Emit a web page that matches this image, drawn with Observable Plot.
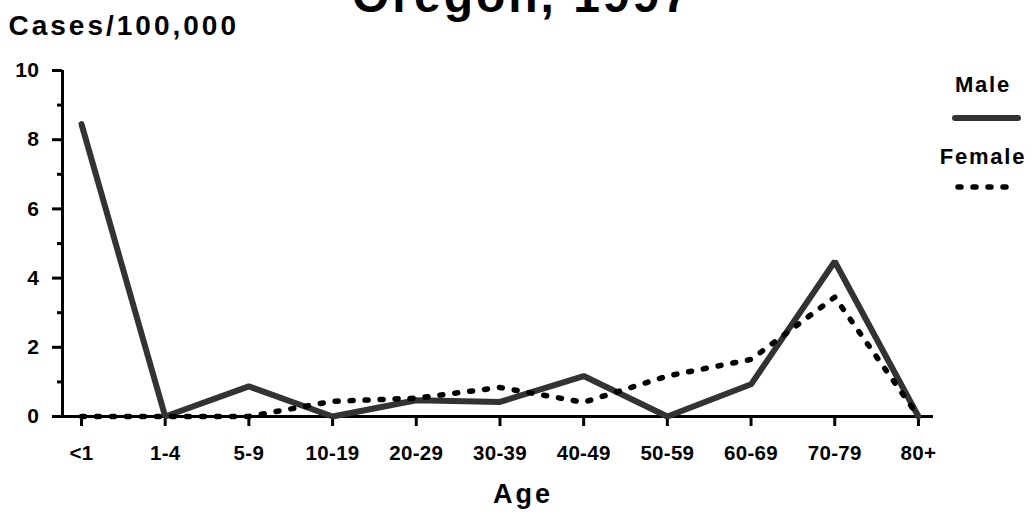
<!DOCTYPE html>
<html>
<head>
<meta charset="utf-8">
<script src="https://cdn.jsdelivr.net/npm/d3@7"></script>
<script src="https://cdn.jsdelivr.net/npm/@observablehq/plot@0.6"></script>
<style>
  html, body { margin: 0; padding: 0; background: #fff; }
  #wrap { position: relative; width: 1035px; height: 512px; overflow: hidden; }
  #legend { position: absolute; left: 930px; top: 70px; width: 110px;
    font-family: "Liberation Sans", Arial, sans-serif; font-weight: bold; font-size: 22px;
    letter-spacing: 1.8px; color: #000; }
  #legend .lab { position: absolute; width: 110px; text-align: center; }
  #legend svg { position: absolute; left: 0; }
</style>
</head>
<body>
<div id="wrap">
  <div id="chart"></div>
  <div id="legend"></div>
</div>
<script>
const ages = ["<1", "1-4", "5-9", "10-19", "20-29", "30-39", "40-49", "50-59", "60-69", "70-79", "80+"];
const male = [8.45, 0, 0.87, 0, 0.47, 0.42, 1.17, 0, 0.93, 4.48, 0];
const female = [0, 0, 0, 0.44, 0.53, 0.84, 0.41, 1.17, 1.65, 3.45, 0];
const yMajor = [0, 2, 4, 6, 8, 10];
const yMinor = [1, 3, 5, 7, 9];
const seriesNames = ["Male", "Female"];
const titleText = "Oregon, 1997";
const yTitle = "Cases/100,000";
const xTitle = "Age";

const data = ages.map((age, i) => ({i, age, male: male[i], female: female[i]}));

const xStart = -0.227;   // frame left edge (y axis position) in index units
const xAxisLeft = -0.335;
const xEnd = 10.18;

const font = "'Liberation Sans', Arial, Helvetica, sans-serif";

const chart = Plot.plot({
  width: 1035,
  height: 512,
  marginLeft: 62,
  marginRight: 102,
  marginTop: 70,
  marginBottom: 96,
  x: {type: "linear", domain: [xStart, xEnd]},
  y: {domain: [0, 10]},
  style: {fontFamily: font, fontWeight: "bold", color: "#000", background: "#fff", overflow: "visible"},
  marks: [
    Plot.axisY(yMajor, {anchor: "left", tickSize: 10, tickPadding: 13, strokeWidth: 3, fontSize: 21, fontWeight: "bold", label: null}),
    Plot.axisY(yMinor, {anchor: "left", tickSize: 5, strokeWidth: 3, tickFormat: () => "", label: null}),
    Plot.axisX(d3.range(ages.length), {anchor: "bottom", tickSize: 10, tickPadding: 19, strokeWidth: 3, fontSize: 20.5, fontWeight: "bold", tickFormat: i => ages[i], label: null}),
    Plot.ruleX([xStart], {y1: 0, y2: 10, stroke: "#000", strokeWidth: 3}),
    Plot.ruleY([0], {x1: xAxisLeft, x2: xEnd, stroke: "#000", strokeWidth: 3}),
    Plot.line(data, {x: "i", y: "male", stroke: "#333333", strokeWidth: 6, strokeLinejoin: "miter"}),
    Plot.line(data, {x: "i", y: "female", stroke: "#000", strokeWidth: 5.5, strokeDasharray: "3,12", strokeLinecap: "round", strokeLinejoin: "round"}),
    Plot.text([titleText], {frameAnchor: "top", dx: 24, dy: -93, fontSize: 48, fontWeight: "bold", fill: "#000"}),
    Plot.text([yTitle], {frameAnchor: "top-left", textAnchor: "start", dx: -54, dy: -55, fontSize: 28, fontWeight: "bold", fill: "#000"}),
    Plot.text([xTitle], {frameAnchor: "bottom", dx: 25, dy: 86, fontSize: 27, fontWeight: "bold", fill: "#000"})
  ]
});
document.getElementById("chart").appendChild(chart);

// text styling per group
d3.select(chart).selectAll("text").each(function() {
  const t = this.textContent;
  const s = d3.select(this);
  if (t === titleText || t === yTitle || t === xTitle) {
    s.style("letter-spacing", "3px");
  } else if (ages.includes(t)) {
    s.style("font-size", "20.5px").style("letter-spacing", "0.3px");
  } else {
    s.style("font-size", "21px").style("letter-spacing", "0.5px");
  }
});

// legend
const legend = d3.select("#legend");
const entries = [
  {name: seriesNames[0], top: 2, lineTop: 48, stroke: "#333333", dash: null, w: 6},
  {name: seriesNames[1], top: 74, lineTop: 117, stroke: "#000", dash: "3,12", w: 5.5}
];
entries.forEach(e => {
  legend.append("div").attr("class", "lab").style("top", e.top + "px").style("left", "-2px").text(e.name);
  const svg = legend.append("svg").attr("width", 110).attr("height", 16).style("top", (e.lineTop - 8) + "px");
  svg.append("line")
    .attr("x1", e.dash ? 28 : 25).attr("x2", e.dash ? 83 : 88)
    .attr("y1", 8).attr("y2", 8)
    .attr("stroke", e.stroke).attr("stroke-width", e.w)
    .attr("stroke-linecap", "round")
    .attr("stroke-dasharray", e.dash);
});
</script>
</body>
</html>
